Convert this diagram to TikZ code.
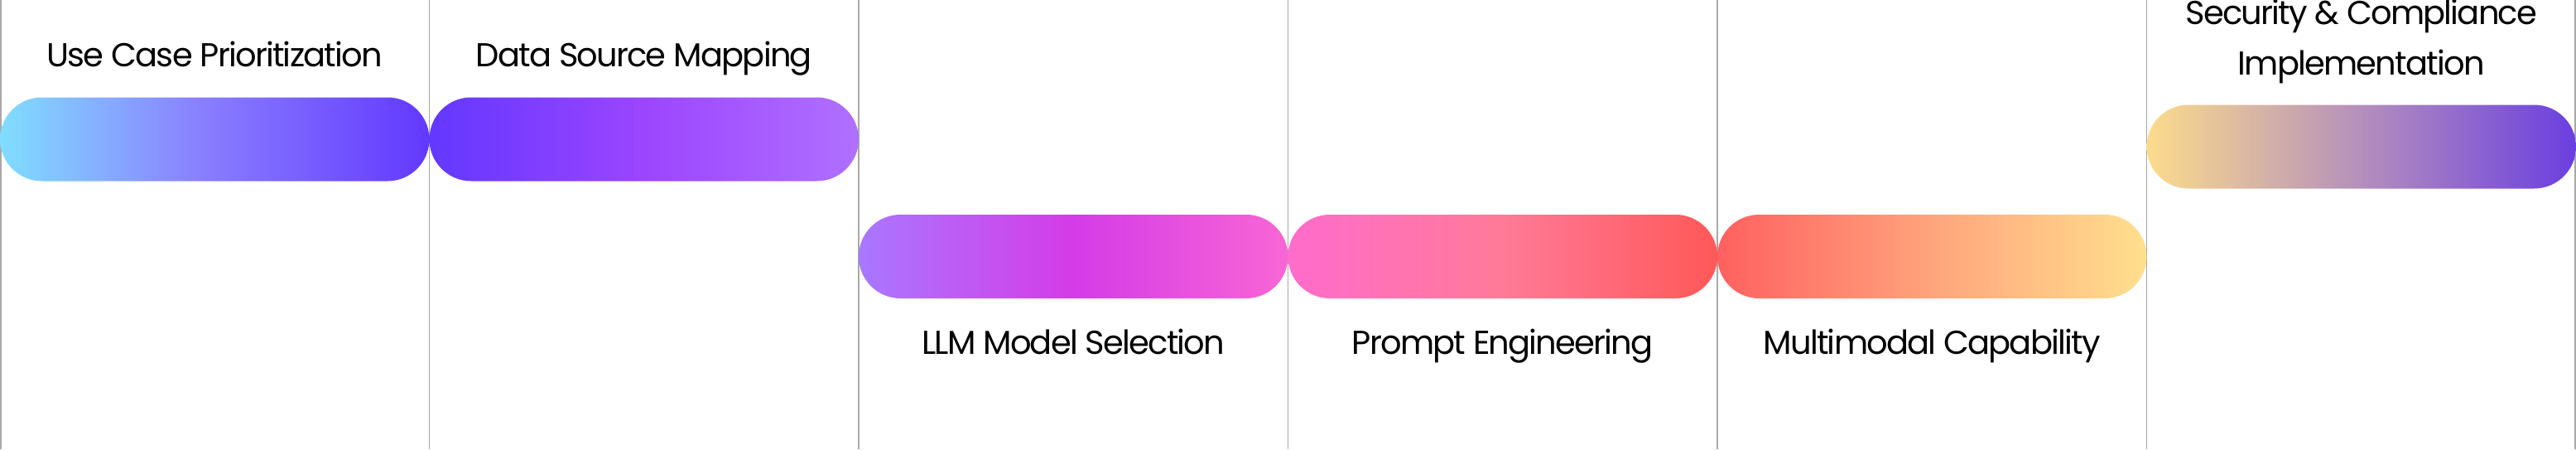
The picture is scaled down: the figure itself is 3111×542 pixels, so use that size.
\documentclass[tikz,border=0pt]{standalone}
\usepackage{fontspec}
\setmainfont[LetterSpace=-4.5]{Poppins}

\definecolor{divgray}{HTML}{A8A8A8}
\definecolor{cyanA}{HTML}{80DEFF}
\definecolor{lavA}{HTML}{8A80FF}
\definecolor{blueB}{HTML}{6238FF}
\definecolor{violB}{HTML}{9C45FF}
\definecolor{lilacB}{HTML}{B070FF}
\definecolor{lilacC}{HTML}{A878FF}
\definecolor{magC}{HTML}{D53BE8}
\definecolor{pinkC}{HTML}{F866D4}
\definecolor{pinkD}{HTML}{FF6CCB}
\definecolor{roseD}{HTML}{FF7A98}
\definecolor{redD}{HTML}{FF5858}
\definecolor{redE}{HTML}{FF6060}
\definecolor{peachE}{HTML}{FFA47C}
\definecolor{yellowE}{HTML}{FFE08E}
\definecolor{yellowF}{HTML}{FCDC8C}
\definecolor{mauveF}{HTML}{B48FBC}
\definecolor{purpleF}{HTML}{6A3EE0}

% the middle half of each shading is fitted to the pill
\pgfdeclarehorizontalshading{gradA}{100bp}{color(0bp)=(cyanA); color(25bp)=(cyanA); color(48bp)=(lavA); color(75bp)=(blueB); color(100bp)=(blueB)}
\pgfdeclarehorizontalshading{gradB}{100bp}{color(0bp)=(blueB); color(25bp)=(blueB); color(50bp)=(violB); color(75bp)=(lilacB); color(100bp)=(lilacB)}
\pgfdeclarehorizontalshading{gradC}{100bp}{color(0bp)=(lilacC); color(25bp)=(lilacC); color(50bp)=(magC); color(75bp)=(pinkC); color(100bp)=(pinkC)}
\pgfdeclarehorizontalshading{gradD}{100bp}{color(0bp)=(pinkD); color(25bp)=(pinkD); color(50bp)=(roseD); color(75bp)=(redD); color(100bp)=(redD)}
\pgfdeclarehorizontalshading{gradE}{100bp}{color(0bp)=(redE); color(25bp)=(redE); color(50bp)=(peachE); color(75bp)=(yellowE); color(100bp)=(yellowE)}
\pgfdeclarehorizontalshading{gradF}{100bp}{color(0bp)=(yellowF); color(25bp)=(yellowF); color(50bp)=(mauveF); color(75bp)=(purpleF); color(100bp)=(purpleF)}

\tikzstyle{pill} = [rectangle, rounded corners=25.25pt, minimum width=259.25pt, minimum height=50.5pt, inner sep=0pt, outer sep=0pt]
\tikzstyle{pilltext} = [anchor=base, inner sep=0pt, font=\fontsize{20}{30.5}\selectfont, align=center]
\tikzstyle{divider} = [draw=divgray, line width=0.6pt]

\begin{document}
\begin{tikzpicture}[x=0.5pt, y=-0.5pt]
	\useasboundingbox (0,0) rectangle (3111,542);

	\draw[divider] (1,0) -- (1,542);
	\draw[divider] (518.5,0) -- (518.5,542);
	\draw[divider] (1037,0) -- (1037,542);
	\draw[divider] (1555.5,0) -- (1555.5,542);
	\draw[divider] (2074,0) -- (2074,542);
	\draw[divider] (2592.5,0) -- (2592.5,542);
	\draw[divider] (3110,0) -- (3110,542);

	\node[pill, shading=gradA] (usecase) at (259.25,168) {};
	\node[pill, shading=gradB] (datasource) at (777.75,168) {};
	\node[pill, shading=gradC] (llmmodel) at (1296.25,309.5) {};
	\node[pill, shading=gradD] (prompt) at (1814.75,309.5) {};
	\node[pill, shading=gradE] (multimodal) at (2333.25,309.5) {};
	\node[pill, shading=gradF] (security) at (2851.75,177) {};

	\node[pilltext] (usecaseL) at (259.25,80) {Use Case Prioritization};
	\node[pilltext] (datasourceL) at (777.75,80) {Data Source Mapping};
	\node[pilltext] (llmmodelL) at (1296.25,427) {LLM Model Selection};
	\node[pilltext] (promptL) at (1814.75,427) {Prompt Engineering};
	\node[pilltext] (multimodalL) at (2333.25,427) {Multimodal Capability};
	\node[pilltext] (securityL) at (2851.75,90) {Security \& Compliance\\Implementation};
\end{tikzpicture}
\end{document}
